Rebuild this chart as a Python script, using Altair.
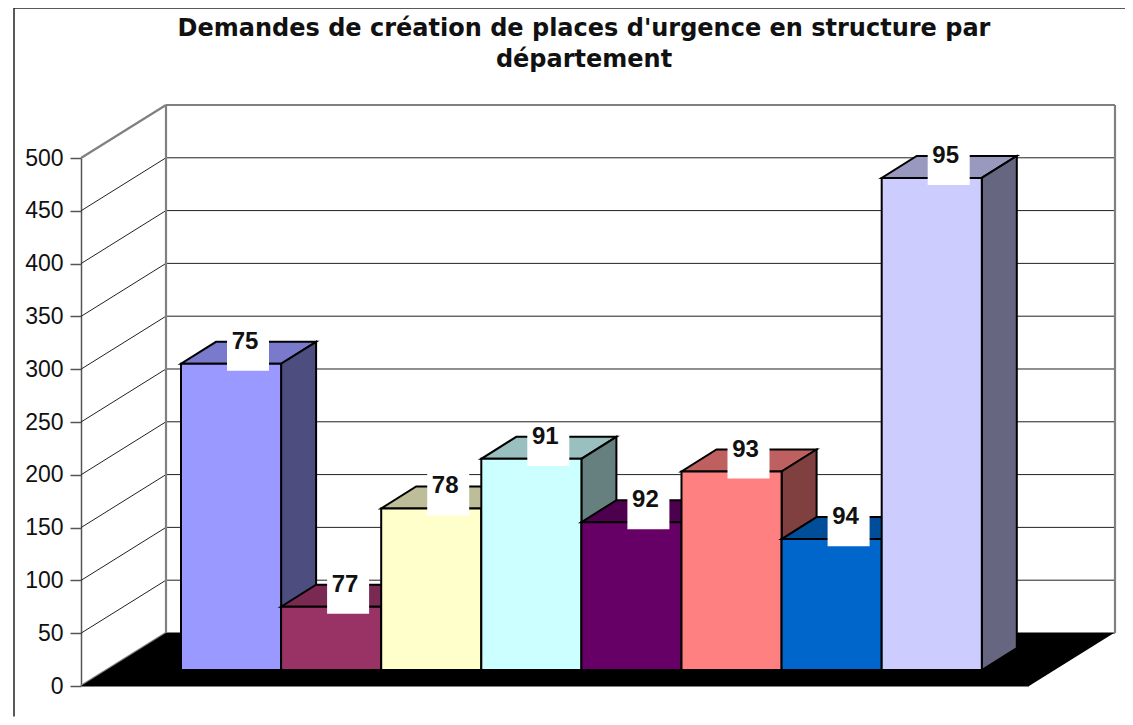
import altair as alt
import pandas as pd

# ---- data
departments = ["75", "77", "78", "91", "92", "93", "94", "95"]
values = [290, 60, 153, 200, 140, 188, 124, 466]
front_colors = ["#9999FF", "#993366", "#FFFFCC", "#CCFFFF", "#660066", "#FF8080", "#0066CC", "#CCCCFF"]
top_colors = ["#7A7ACC", "#7A2952", "#BDBD99", "#99BFBF", "#4D004D", "#BF6060", "#004D99", "#9999BF"]
side_colors = ["#4D4D80", "#4D1A33", "#808066", "#668080", "#330033", "#804040", "#003366", "#666680"]
ticks = [0, 50, 100, 150, 200, 250, 300, 350, 400, 450, 500]
title_lines = ["Demandes de création de places d'urgence en structure par", "département"]

# ---- oblique projection, in scale units
FONT = "Liberation Sans"
PLOT_W, PLOT_H = 1034, 528
WALL_DX, WALL_DY = 85, 50.2
FLOOR_W = 948
BAR_DX, BAR_DY = 35, 20.8
BAR_W = 100.1
BAR_X0 = 100
BAR_BASE = 15.15

x_scale = alt.Scale(domain=[0, PLOT_W], range=[0, PLOT_W], nice=False, zero=False)
y_scale = alt.Scale(domain=[0, 500], range=[PLOT_H, 0], nice=False, zero=False)
y_axis = alt.Axis(
    values=ticks, title=None, grid=False, labelFont=FONT, labelFontSize=23,
    labelColor="#111111", labelPadding=7, tickSize=11, tickColor="#555555",
    tickWidth=1.5, domainColor="#555555", domainWidth=1.5, format="d", labelFlush=False,
    labelOverlap=False)
X = alt.X("x:Q", scale=x_scale, axis=None)
Y = alt.Y("y:Q", scale=y_scale, axis=y_axis, stack=False)


def poly(rows, name, fill, lows, highs, xs):
    for x, lo, hi in zip(xs, lows, highs):
        rows.append({"face": name, "fill": fill, "x": x, "y": lo + BAR_BASE, "y2": hi + BAR_BASE})


faces = []
for i, t in enumerate(values):
    l = BAR_X0 + BAR_W * i
    r = l + BAR_W
    poly(faces, f"{i}-top", top_colors[i],
         [t, t, t, t + BAR_DY], [t, t + BAR_DY, t + BAR_DY, t + BAR_DY],
         [l, l + BAR_DX, r, r + BAR_DX])
    poly(faces, f"{i}-side", side_colors[i],
         [0, BAR_DY], [t, t + BAR_DY], [r, r + BAR_DX])
    poly(faces, f"{i}-front", front_colors[i], [0, 0], [t, t], [l, r])
faces = pd.DataFrame(faces)

floor = pd.DataFrame({
    "x": [0, WALL_DX, FLOOR_W, PLOT_W - 1],
    "y": [0, 0, 0, WALL_DY],
    "y2": [0, WALL_DY, WALL_DY, WALL_DY],
})

grid_rows = []
for v in ticks[1:-1]:
    grid_rows.append({"x": 0, "x2": WALL_DX, "y": v, "y2": v + WALL_DY})
    grid_rows.append({"x": WALL_DX, "x2": PLOT_W, "y": v + WALL_DY, "y2": v + WALL_DY})
grid = pd.DataFrame(grid_rows)

TOP = 500 + WALL_DY
wall = pd.DataFrame([
    {"x": 0, "x2": WALL_DX, "y": 500, "y2": TOP},
    {"x": 0, "x2": WALL_DX, "y": 0, "y2": WALL_DY},
    {"x": WALL_DX, "x2": PLOT_W, "y": TOP, "y2": TOP},
    {"x": WALL_DX, "x2": WALL_DX, "y": WALL_DY, "y2": TOP},
    {"x": PLOT_W, "x2": PLOT_W, "y": WALL_DY, "y2": TOP},
    {"x": WALL_DX, "x2": PLOT_W, "y": WALL_DY, "y2": WALL_DY},
    {"x": 0, "x2": FLOOR_W, "y": 0, "y2": 0},
])

frame = pd.DataFrame([
    {"x": -67, "x2": PLOT_W + 10, "y": 642, "y2": 642},
    {"x": -67, "x2": -67, "y": 642, "y2": -29},
])

labels = pd.DataFrame({
    "label": departments,
    "x": [BAR_X0 + BAR_W * i + 67 for i in range(len(values))],
    "y": [v + BAR_BASE + BAR_DY for v in values],
})
labels["bx"] = labels["x"] - 21
labels["bx2"] = labels["x"] + 21
labels["by"] = labels["y"] - 27.5
labels["by2"] = labels["y"] + 12.3

seg = dict(x=X, x2="x2:Q", y=alt.Y("y:Q", scale=y_scale, axis=y_axis), y2="y2:Q")

layers = [
    alt.Chart(frame).mark_rule(color="#222222", strokeWidth=1.5).encode(**seg),
    alt.Chart(grid).mark_rule(color="#222222", strokeWidth=1).encode(**seg),
    alt.Chart(wall).mark_rule(color="#808080", strokeWidth=2.2).encode(**seg),
    alt.Chart(floor).mark_area(color="black").encode(x=X, y=Y, y2="y2:Q"),
    alt.Chart(faces).mark_area(stroke="black", strokeWidth=2, strokeJoin="miter", opacity=1).encode(
        x=X, y=Y, y2="y2:Q",
        fill=alt.Fill("fill:N", scale=None),
        detail="face:N",
    ),
    alt.Chart(labels).mark_rect(color="white").encode(
        x=alt.X("bx:Q", scale=x_scale, axis=None), x2="bx2:Q",
        y=alt.Y("by:Q", scale=y_scale, axis=y_axis), y2="by2:Q"),
    alt.Chart(labels).mark_text(font=FONT, fontSize=24, fontWeight="bold", color="#111111", dx=-3).encode(
        x=X, y=alt.Y("y:Q", scale=y_scale, axis=y_axis), text="label:N"),
]

chart = alt.layer(*layers).properties(
    width=PLOT_W,
    height=PLOT_H,
    background="white",
    title=alt.TitleParams(
        text=title_lines, anchor="middle", frame="group", dx=-14, offset=-65,
        font="DejaVu Sans", fontSize=24, fontWeight="bold", color="#111111", lineHeight=31),
    padding={"left": 73, "right": 10, "top": 150, "bottom": 31},
    autosize=alt.AutoSizeParams(type="none"),
).configure_view(stroke=None)

chart.save("out.html", embed_options={"renderer": "svg", "actions": False})
